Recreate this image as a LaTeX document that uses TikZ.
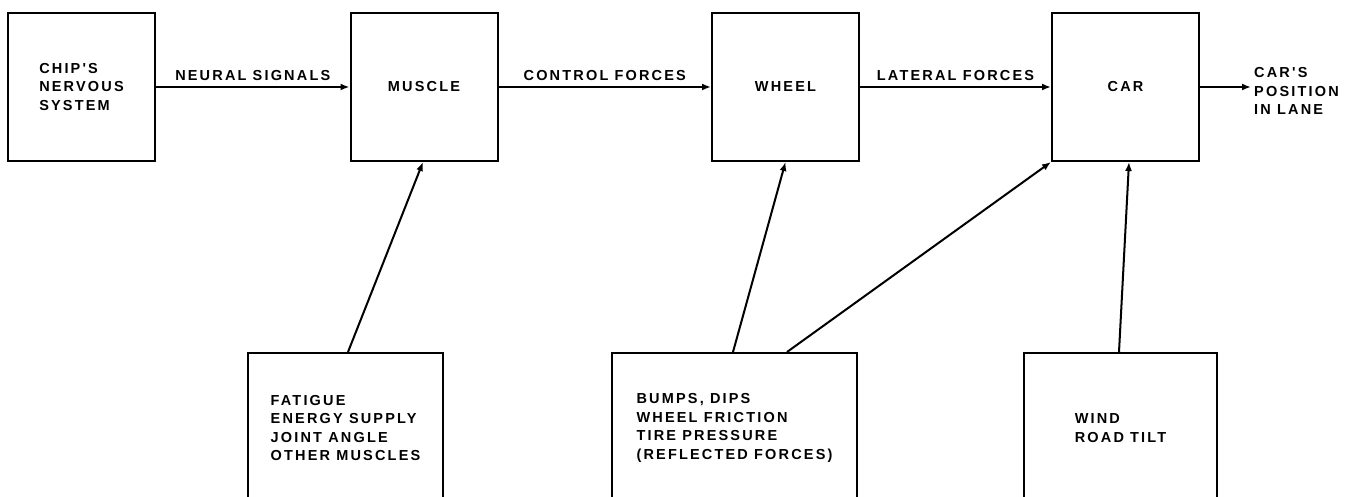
\documentclass[tikz,border=0pt]{standalone}
\usepackage{fontspec}
\usepackage{tikz}
\usetikzlibrary{arrows.meta, positioning, calc}
\newfontfamily\labelfont[LetterSpace=15]{Liberation Sans}

\begin{document}
\begin{tikzpicture}[
    x=1pt, y=1pt,
    block/.style={draw=black, line width=2pt, minimum width=147pt,
                  minimum height=148pt, align=left, inner sep=0pt,
                  font=\labelfont\bfseries\fontsize{14.5}{18.5}\selectfont},
    inbox/.style={block, minimum height=150pt},
    lbl/.style={font=\labelfont\bfseries\fontsize{14.5}{18.5}\selectfont,
                align=left, inner sep=3pt},
    arr/.style={-{Latex[length=9pt, width=7pt]}, line width=2pt, black}
]
\useasboundingbox (0,0) rectangle (1360,496);
\clip (0,0) rectangle (1360,496);

% Ligne du haut : la chaine
\node[block] (nerv)   at (81.5,409)  {CHIP'S\\NERVOUS\\SYSTEM};
\node[block] (muscle) at (424,409)   {MUSCLE};
\node[block] (wheel)  at (785.5,409) {WHEEL};
\node[block] (car)    at (1125.5,409){CAR};
\node[lbl, anchor=west] (pos) at (1251,405) {CAR'S\\POSITION\\IN LANE};

% Ligne du bas : perturbations
\node[inbox, minimum width=195pt] (fatig) at (345.5,68) {FATIGUE\\ENERGY SUPPLY\\JOINT ANGLE\\OTHER MUSCLES};
\node[inbox, minimum width=245pt] (bumps) at (734.5,68) {BUMPS, DIPS\\WHEEL FRICTION\\TIRE PRESSURE\\(REFLECTED FORCES)};
\node[inbox, minimum width=193pt] (wind)  at (1120.5,68) {WIND\\ROAD TILT};

% Fleches horizontales
\draw[arr] (nerv.east) -- node[lbl, above=2pt] {NEURAL SIGNALS} (muscle.west);
\draw[arr] (muscle.east) -- node[lbl, above=2pt] {CONTROL FORCES} (wheel.west);
\draw[arr] (wheel.east) -- node[lbl, above=2pt] {LATERAL FORCES} (car.west);
\draw[arr] (car.east) -- (car.east -| pos.west);

% Fleches montantes
\draw[arr] ([xshift=2.5pt]fatig.north) -- ([xshift=-1pt]muscle.south);
\draw[arr] ([xshift=-1.5pt]bumps.north) -- (wheel.south);
\draw[arr] ([xshift=52.5pt]bumps.north) -- (car.south west);
\draw[arr] ([xshift=-1.5pt]wind.north) -- ([xshift=3.5pt]car.south);

\end{tikzpicture}
\end{document}
